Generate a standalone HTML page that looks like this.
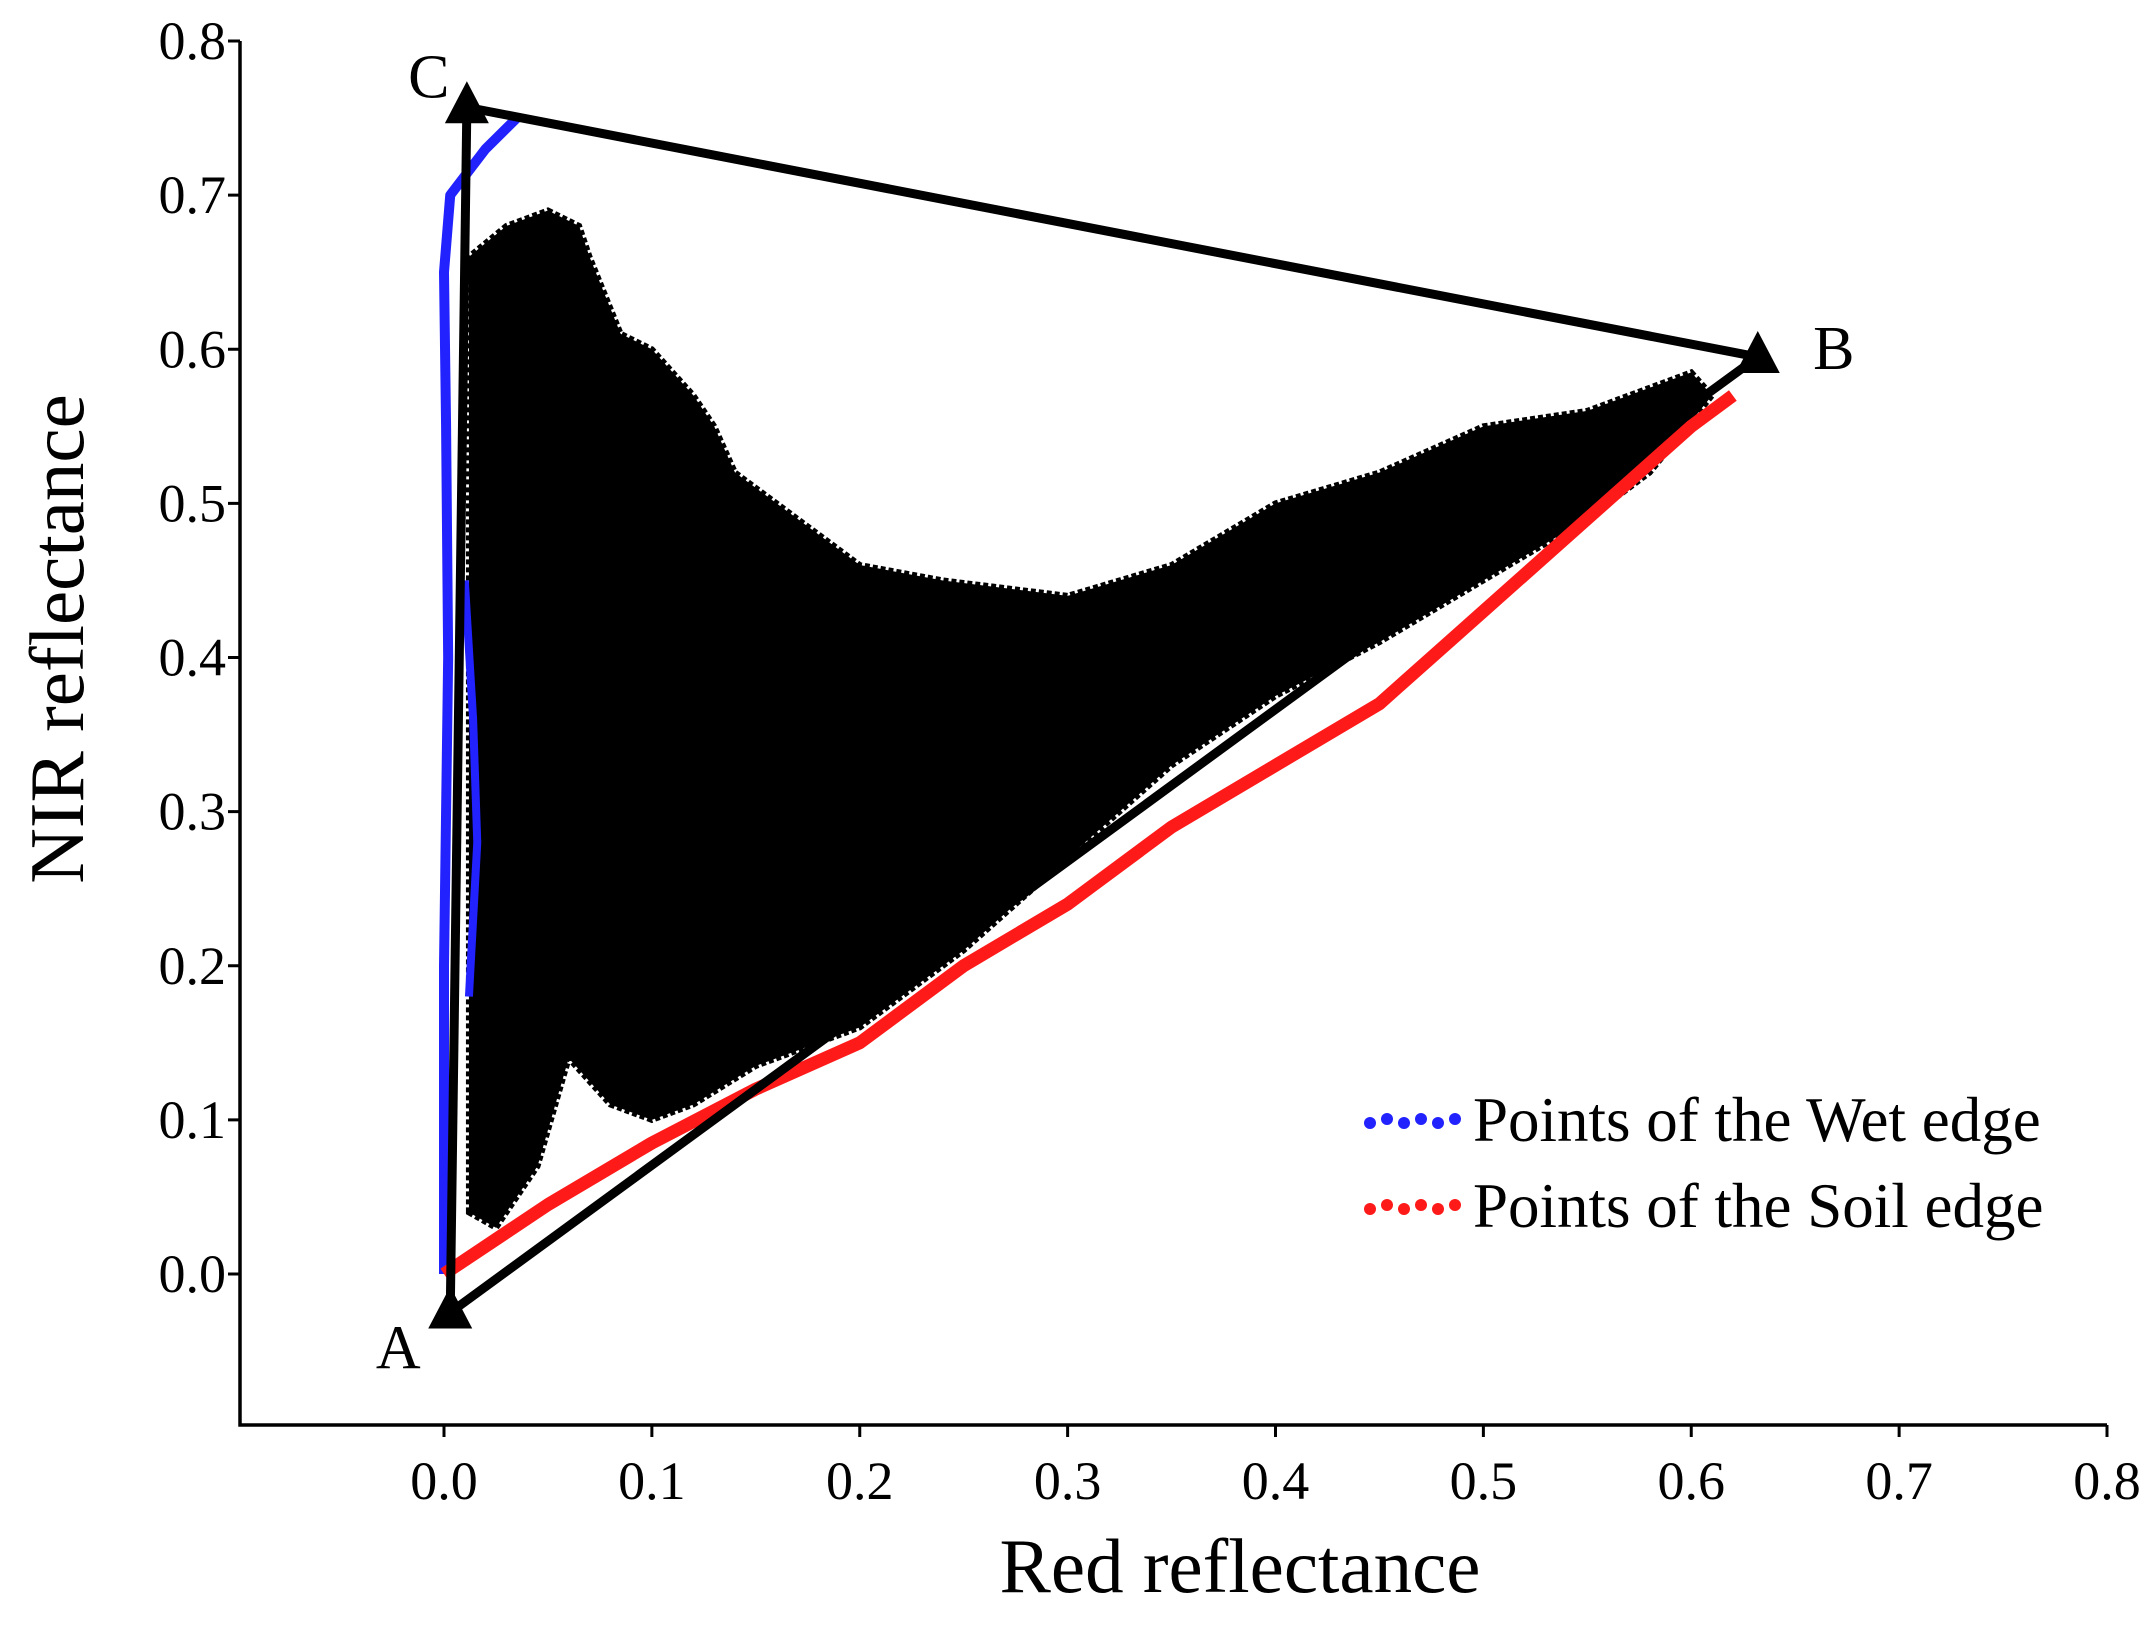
<!DOCTYPE html>
<html><head><meta charset="utf-8">
<style>
html,body{margin:0;padding:0;background:#fff;}
svg{display:block;font-family:"Liberation Serif",serif;}
</style></head>
<body>
<svg id="chart" width="2155" height="1626" viewBox="0 0 2155 1626" xmlns="http://www.w3.org/2000/svg"></svg>
<script>
const xTicks=[0.0,0.1,0.2,0.3,0.4,0.5,0.6,0.7,0.8];
const yTicks=[0.0,0.1,0.2,0.3,0.4,0.5,0.6,0.7,0.8];
const tickLabels=["0.0","0.1","0.2","0.3","0.4","0.5","0.6","0.7","0.8"];
const vertexNames=["A","B","C"];
const vertexX=[0.003,0.632,0.011];
const vertexY=[-0.025,0.595,0.757];
const cloudX=[0.012,0.012,0.03,0.05,0.065,0.07,0.085,0.1,0.12,0.13,0.14,0.17,0.2,0.24,0.3,0.35,0.4,0.45,0.5,0.55,0.6,0.61,0.58,0.55,0.5,0.45,0.4,0.35,0.3,0.25,0.2,0.15,0.12,0.1,0.08,0.06,0.045,0.035,0.025];
const cloudY=[0.04,0.66,0.68,0.69,0.68,0.66,0.61,0.6,0.57,0.55,0.52,0.49,0.46,0.45,0.44,0.46,0.5,0.52,0.55,0.56,0.585,0.57,0.52,0.49,0.45,0.41,0.375,0.33,0.27,0.21,0.16,0.135,0.11,0.1,0.11,0.14,0.07,0.05,0.03];
const wetX=[0.0,0.0,0.002,0.001,0.0,0.003,0.02,0.035];
const wetY=[0.0,0.2,0.4,0.55,0.65,0.7,0.73,0.75];
const wet2X=[0.012,0.016,0.014,0.01];
const wet2Y=[0.18,0.28,0.36,0.45];
const soilX=[0.0,0.05,0.1,0.15,0.2,0.25,0.3,0.35,0.4,0.45,0.5,0.55,0.6,0.62];
const soilY=[0.0,0.045,0.085,0.12,0.15,0.2,0.24,0.29,0.33,0.37,0.43,0.49,0.55,0.57];

const X0=444, XS=(2107-444)/0.8, Y0=1274, YS=(1274-41)/0.8;
const sx=v=>X0+v*XS, sy=v=>Y0-v*YS;
const svg=document.getElementById('chart');
const NS="http://www.w3.org/2000/svg";
function mk(tag,attrs,parent){const e=document.createElementNS(NS,tag);for(const k in attrs)e.setAttribute(k,attrs[k]);(parent||svg).appendChild(e);return e;}

const axL=240, axB=1425;
let e=mk('path',{d:`M${axL},${sy(0.8)} L${axL},${axB} L${sx(0.8)},${axB}`,fill:'none',stroke:'#000','stroke-width':3.5});


xTicks.forEach((t,i)=>{
  let l=mk('line',{x1:sx(t),x2:sx(t),y1:axB,y2:axB+12,stroke:'#000','stroke-width':3});
  
  
  let tx=mk('text',{x:sx(t),y:axB+74,'font-size':54,'text-anchor':'middle'});
  tx.textContent=tickLabels[i];
  
  
});
yTicks.forEach((t,i)=>{
  let l=mk('line',{x1:axL-12,x2:axL,y1:sy(t),y2:sy(t),stroke:'#000','stroke-width':3});
  
  
  let tx=mk('text',{x:axL-14,y:sy(t)+18,'font-size':54,'text-anchor':'end'});
  tx.textContent=tickLabels[i];
  
  
});
let xt=mk('text',{x:1240,y:1592,'font-size':77,'text-anchor':'middle'});
xt.textContent='Red reflectance';


let yt=mk('text',{x:0,y:0,'font-size':77,'text-anchor':'middle',transform:'translate(83,639) rotate(-90)'});
yt.textContent='NIR reflectance';



let cp=mk('polygon',{points:cloudX.map((x,i)=>sx(x)+','+sy(cloudY[i])).join(' '),fill:'#000',stroke:'#000','stroke-width':6,'stroke-dasharray':'5 3'});



let w=mk('polyline',{points:wetX.map((x,i)=>sx(x)+','+sy(wetY[i])).join(' '),fill:'none',stroke:'#2222ff','stroke-width':10,'stroke-linejoin':'round'});


let w2=mk('polyline',{points:wet2X.map((x,i)=>sx(x)+','+sy(wet2Y[i])).join(' '),fill:'none',stroke:'#2222ff','stroke-width':8});


let s=mk('polyline',{points:soilX.map((x,i)=>sx(x)+','+sy(soilY[i])).join(' '),fill:'none',stroke:'#ff1a1a','stroke-width':13,'stroke-linejoin':'round'});



let tri=mk('polygon',{points:vertexX.map((x,i)=>sx(x)+','+sy(vertexY[i])).join(' '),fill:'none',stroke:'#000','stroke-width':9});


const labOff=[[-52,56],[76,12],[-38,-10]];
vertexX.forEach((x,i)=>{
  const cx=sx(x), cy=sy(vertexY[i]);
  let m=mk('polygon',{points:`${cx},${cy-26} ${cx-22},${cy+16} ${cx+22},${cy+16}`,fill:'#000'});
  
  
  let t=mk('text',{x:cx+labOff[i][0],y:cy+labOff[i][1],'font-size':62,'text-anchor':'middle'});
  t.textContent=vertexNames[i];
  
  
});

let lg=mk('g',{});


[['#2222ff','Points of the Wet edge',1121],['#ff1a1a','Points of the Soil edge',1207]].forEach(([c,txt,y])=>{
  let ent=mk('g',{},lg);
  
  
  for(let k=0;k<6;k++){mk('circle',{cx:1370+k*17,cy:y+(k%2?-2:2),r:6,fill:c},ent);}
  let t=mk('text',{x:1473,y:y+20,'font-size':63},ent);
  t.textContent=txt;
});
</script>
</body></html>
